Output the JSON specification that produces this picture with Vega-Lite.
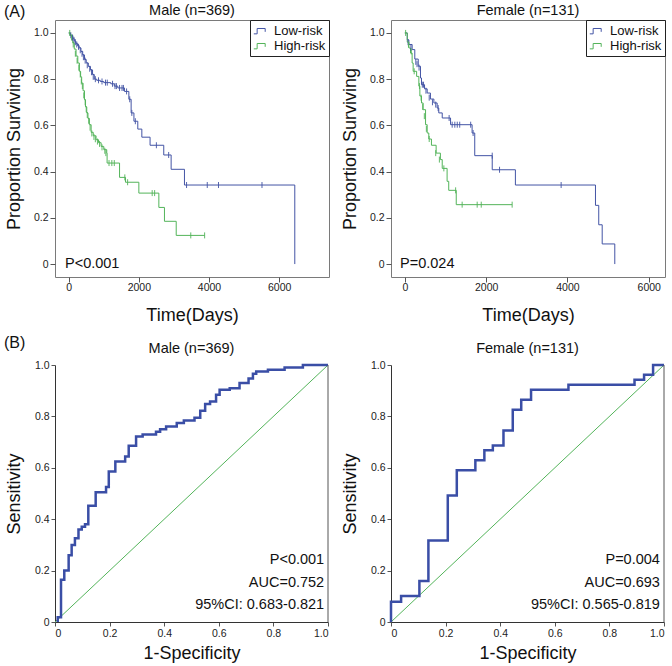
{
  "$schema": "https://vega.github.io/schema/vega-lite/v6.json",
  "padding": {"left": 3, "top": 2, "right": 5, "bottom": 5},
  "background": "white",
  "config": {
    "font": "Liberation Sans",
    "view": {"stroke": "#7a7a7a", "strokeWidth": 1},
    "axis": {"grid": false, "labelFontSize": 10.5, "labelColor": "#222", "titleFontSize": 18, "titleFontWeight": "normal", "titleColor": "#111", "tickColor": "#555", "domainColor": "#555", "tickSize": 5, "labelPadding": 2}
  },
  "datasets": {
    "km_male": [
      {"t":0,"s":1,"g":"Low-risk"},{"t":40,"s":0.99,"g":"Low-risk"},{"t":80,"s":0.985,"g":"Low-risk"},{"t":120,"s":0.975,"g":"Low-risk"},{"t":160,"s":0.965,"g":"Low-risk"},{"t":200,"s":0.955,"g":"Low-risk"},{"t":250,"s":0.945,"g":"Low-risk"},{"t":300,"s":0.935,"g":"Low-risk"},{"t":350,"s":0.92,"g":"Low-risk"},{"t":400,"s":0.905,"g":"Low-risk"},{"t":450,"s":0.885,"g":"Low-risk"},{"t":500,"s":0.87,"g":"Low-risk"},{"t":560,"s":0.855,"g":"Low-risk"},{"t":620,"s":0.84,"g":"Low-risk"},{"t":680,"s":0.82,"g":"Low-risk"},{"t":730,"s":0.8,"g":"Low-risk"},{"t":800,"s":0.795,"g":"Low-risk"},{"t":900,"s":0.79,"g":"Low-risk"},{"t":1000,"s":0.785,"g":"Low-risk"},{"t":1200,"s":0.78,"g":"Low-risk"},{"t":1300,"s":0.77,"g":"Low-risk"},{"t":1400,"s":0.762,"g":"Low-risk"},{"t":1590,"s":0.747,"g":"Low-risk"},{"t":1715,"s":0.713,"g":"Low-risk"},{"t":1780,"s":0.654,"g":"Low-risk"},{"t":1860,"s":0.618,"g":"Low-risk"},{"t":1970,"s":0.584,"g":"Low-risk"},{"t":2085,"s":0.549,"g":"Low-risk"},{"t":2320,"s":0.514,"g":"Low-risk"},{"t":2710,"s":0.472,"g":"Low-risk"},{"t":2920,"s":0.41,"g":"Low-risk"},{"t":3300,"s":0.342,"g":"Low-risk"},{"t":6445,"s":0.0,"g":"Low-risk"},
      {"t":0,"s":1,"g":"High-risk"},{"t":50,"s":0.99,"g":"High-risk"},{"t":115,"s":0.957,"g":"High-risk"},{"t":160,"s":0.93,"g":"High-risk"},{"t":210,"s":0.9,"g":"High-risk"},{"t":260,"s":0.87,"g":"High-risk"},{"t":305,"s":0.834,"g":"High-risk"},{"t":340,"s":0.81,"g":"High-risk"},{"t":370,"s":0.783,"g":"High-risk"},{"t":410,"s":0.75,"g":"High-risk"},{"t":450,"s":0.711,"g":"High-risk"},{"t":480,"s":0.68,"g":"High-risk"},{"t":515,"s":0.654,"g":"High-risk"},{"t":550,"s":0.63,"g":"High-risk"},{"t":590,"s":0.603,"g":"High-risk"},{"t":640,"s":0.57,"g":"High-risk"},{"t":700,"s":0.555,"g":"High-risk"},{"t":780,"s":0.538,"g":"High-risk"},{"t":850,"s":0.525,"g":"High-risk"},{"t":925,"s":0.509,"g":"High-risk"},{"t":1000,"s":0.495,"g":"High-risk"},{"t":1085,"s":0.48,"g":"High-risk"},{"t":1095,"s":0.437,"g":"High-risk"},{"t":1450,"s":0.375,"g":"High-risk"},{"t":1620,"s":0.354,"g":"High-risk"},{"t":2000,"s":0.307,"g":"High-risk"},{"t":2570,"s":0.245,"g":"High-risk"},{"t":2730,"s":0.185,"g":"High-risk"},{"t":3065,"s":0.124,"g":"High-risk"},{"t":3875,"s":0.124,"g":"High-risk"}
    ],
    "km_male_cens": [
      {"t":60,"s":0.99,"g":"Low-risk"},{"t":110,"s":0.98,"g":"Low-risk"},{"t":150,"s":0.97,"g":"Low-risk"},{"t":190,"s":0.96,"g":"Low-risk"},{"t":230,"s":0.95,"g":"Low-risk"},{"t":280,"s":0.94,"g":"Low-risk"},{"t":330,"s":0.925,"g":"Low-risk"},{"t":380,"s":0.91,"g":"Low-risk"},{"t":420,"s":0.895,"g":"Low-risk"},{"t":470,"s":0.88,"g":"Low-risk"},{"t":530,"s":0.86,"g":"Low-risk"},{"t":600,"s":0.845,"g":"Low-risk"},{"t":650,"s":0.83,"g":"Low-risk"},{"t":700,"s":0.81,"g":"Low-risk"},{"t":760,"s":0.8,"g":"Low-risk"},{"t":850,"s":0.795,"g":"Low-risk"},{"t":950,"s":0.79,"g":"Low-risk"},{"t":1050,"s":0.785,"g":"Low-risk"},{"t":1100,"s":0.785,"g":"Low-risk"},{"t":1250,"s":0.78,"g":"Low-risk"},{"t":1320,"s":0.77,"g":"Low-risk"},{"t":1360,"s":0.77,"g":"Low-risk"},{"t":1450,"s":0.762,"g":"Low-risk"},{"t":1520,"s":0.762,"g":"Low-risk"},{"t":1560,"s":0.762,"g":"Low-risk"},{"t":1650,"s":0.747,"g":"Low-risk"},{"t":1740,"s":0.713,"g":"Low-risk"},{"t":1800,"s":0.654,"g":"Low-risk"},{"t":1900,"s":0.618,"g":"Low-risk"},{"t":2500,"s":0.514,"g":"Low-risk"},{"t":2850,"s":0.472,"g":"Low-risk"},{"t":3360,"s":0.342,"g":"Low-risk"},{"t":3950,"s":0.342,"g":"Low-risk"},{"t":4270,"s":0.342,"g":"Low-risk"},{"t":5510,"s":0.342,"g":"Low-risk"},
      {"t":30,"s":1.0,"g":"High-risk"},{"t":80,"s":0.98,"g":"High-risk"},{"t":130,"s":0.95,"g":"High-risk"},{"t":190,"s":0.91,"g":"High-risk"},{"t":240,"s":0.88,"g":"High-risk"},{"t":290,"s":0.85,"g":"High-risk"},{"t":330,"s":0.82,"g":"High-risk"},{"t":360,"s":0.79,"g":"High-risk"},{"t":390,"s":0.77,"g":"High-risk"},{"t":430,"s":0.73,"g":"High-risk"},{"t":470,"s":0.7,"g":"High-risk"},{"t":500,"s":0.67,"g":"High-risk"},{"t":530,"s":0.645,"g":"High-risk"},{"t":570,"s":0.62,"g":"High-risk"},{"t":610,"s":0.59,"g":"High-risk"},{"t":660,"s":0.565,"g":"High-risk"},{"t":720,"s":0.55,"g":"High-risk"},{"t":760,"s":0.54,"g":"High-risk"},{"t":820,"s":0.53,"g":"High-risk"},{"t":880,"s":0.52,"g":"High-risk"},{"t":950,"s":0.505,"g":"High-risk"},{"t":1030,"s":0.49,"g":"High-risk"},{"t":1060,"s":0.48,"g":"High-risk"},{"t":1150,"s":0.437,"g":"High-risk"},{"t":1230,"s":0.437,"g":"High-risk"},{"t":1300,"s":0.437,"g":"High-risk"},{"t":1600,"s":0.375,"g":"High-risk"},{"t":1680,"s":0.354,"g":"High-risk"},{"t":2380,"s":0.307,"g":"High-risk"},{"t":2450,"s":0.307,"g":"High-risk"},{"t":3480,"s":0.124,"g":"High-risk"},{"t":3875,"s":0.124,"g":"High-risk"}
    ],
    "km_female": [
      {"t":0,"s":1,"g":"Low-risk"},{"t":60,"s":0.97,"g":"Low-risk"},{"t":100,"s":0.95,"g":"Low-risk"},{"t":180,"s":0.928,"g":"Low-risk"},{"t":245,"s":0.887,"g":"Low-risk"},{"t":330,"s":0.856,"g":"Low-risk"},{"t":385,"s":0.805,"g":"Low-risk"},{"t":410,"s":0.776,"g":"Low-risk"},{"t":485,"s":0.758,"g":"Low-risk"},{"t":550,"s":0.74,"g":"Low-risk"},{"t":630,"s":0.714,"g":"Low-risk"},{"t":715,"s":0.697,"g":"Low-risk"},{"t":795,"s":0.675,"g":"Low-risk"},{"t":835,"s":0.654,"g":"Low-risk"},{"t":920,"s":0.632,"g":"Low-risk"},{"t":1125,"s":0.603,"g":"Low-risk"},{"t":1655,"s":0.567,"g":"Low-risk"},{"t":1720,"s":0.469,"g":"Low-risk"},{"t":2150,"s":0.408,"g":"Low-risk"},{"t":2720,"s":0.342,"g":"Low-risk"},{"t":4690,"s":0.254,"g":"Low-risk"},{"t":4770,"s":0.17,"g":"Low-risk"},{"t":4855,"s":0.087,"g":"Low-risk"},{"t":5165,"s":0.0,"g":"Low-risk"},
      {"t":0,"s":1,"g":"High-risk"},{"t":60,"s":0.96,"g":"High-risk"},{"t":100,"s":0.935,"g":"High-risk"},{"t":140,"s":0.913,"g":"High-risk"},{"t":180,"s":0.87,"g":"High-risk"},{"t":205,"s":0.834,"g":"High-risk"},{"t":290,"s":0.812,"g":"High-risk"},{"t":345,"s":0.77,"g":"High-risk"},{"t":370,"s":0.727,"g":"High-risk"},{"t":410,"s":0.697,"g":"High-risk"},{"t":450,"s":0.668,"g":"High-risk"},{"t":510,"s":0.603,"g":"High-risk"},{"t":550,"s":0.567,"g":"High-risk"},{"t":590,"s":0.541,"g":"High-risk"},{"t":655,"s":0.514,"g":"High-risk"},{"t":770,"s":0.48,"g":"High-risk"},{"t":875,"s":0.452,"g":"High-risk"},{"t":920,"s":0.414,"g":"High-risk"},{"t":1040,"s":0.358,"g":"High-risk"},{"t":1080,"s":0.319,"g":"High-risk"},{"t":1265,"s":0.257,"g":"High-risk"},{"t":2640,"s":0.257,"g":"High-risk"}
    ],
    "km_female_cens": [
      {"t":80,"s":0.96,"g":"Low-risk"},{"t":150,"s":0.935,"g":"Low-risk"},{"t":270,"s":0.875,"g":"Low-risk"},{"t":300,"s":0.865,"g":"Low-risk"},{"t":350,"s":0.85,"g":"Low-risk"},{"t":430,"s":0.776,"g":"Low-risk"},{"t":460,"s":0.776,"g":"Low-risk"},{"t":520,"s":0.75,"g":"Low-risk"},{"t":600,"s":0.72,"g":"Low-risk"},{"t":680,"s":0.7,"g":"Low-risk"},{"t":760,"s":0.69,"g":"Low-risk"},{"t":820,"s":0.675,"g":"Low-risk"},{"t":1090,"s":0.632,"g":"Low-risk"},{"t":1165,"s":0.603,"g":"Low-risk"},{"t":1230,"s":0.603,"g":"Low-risk"},{"t":1290,"s":0.603,"g":"Low-risk"},{"t":1350,"s":0.603,"g":"Low-risk"},{"t":1620,"s":0.603,"g":"Low-risk"},{"t":1680,"s":0.567,"g":"Low-risk"},{"t":2150,"s":0.469,"g":"Low-risk"},{"t":2330,"s":0.408,"g":"Low-risk"},{"t":3845,"s":0.342,"g":"Low-risk"},
      {"t":20,"s":1.0,"g":"High-risk"},{"t":90,"s":0.95,"g":"High-risk"},{"t":160,"s":0.92,"g":"High-risk"},{"t":230,"s":0.834,"g":"High-risk"},{"t":360,"s":0.77,"g":"High-risk"},{"t":400,"s":0.72,"g":"High-risk"},{"t":440,"s":0.68,"g":"High-risk"},{"t":480,"s":0.64,"g":"High-risk"},{"t":530,"s":0.585,"g":"High-risk"},{"t":600,"s":0.541,"g":"High-risk"},{"t":760,"s":0.48,"g":"High-risk"},{"t":850,"s":0.452,"g":"High-risk"},{"t":960,"s":0.414,"g":"High-risk"},{"t":1250,"s":0.319,"g":"High-risk"},{"t":1410,"s":0.257,"g":"High-risk"},{"t":1780,"s":0.257,"g":"High-risk"},{"t":1880,"s":0.257,"g":"High-risk"},{"t":2640,"s":0.257,"g":"High-risk"}
    ],
    "roc_male": [
      {"fpr":0.01,"tpr":0},{"fpr":0.01,"tpr":0.018},{"fpr":0.022,"tpr":0.164},{"fpr":0.034,"tpr":0.2},{"fpr":0.05,"tpr":0.26},{"fpr":0.061,"tpr":0.3},{"fpr":0.073,"tpr":0.326},{"fpr":0.086,"tpr":0.36},{"fpr":0.098,"tpr":0.371},{"fpr":0.11,"tpr":0.38},{"fpr":0.122,"tpr":0.452},{"fpr":0.149,"tpr":0.505},{"fpr":0.187,"tpr":0.525},{"fpr":0.197,"tpr":0.586},{"fpr":0.221,"tpr":0.625},{"fpr":0.257,"tpr":0.644},{"fpr":0.27,"tpr":0.686},{"fpr":0.297,"tpr":0.722},{"fpr":0.321,"tpr":0.73},{"fpr":0.37,"tpr":0.74},{"fpr":0.385,"tpr":0.75},{"fpr":0.407,"tpr":0.761},{"fpr":0.446,"tpr":0.774},{"fpr":0.472,"tpr":0.784},{"fpr":0.511,"tpr":0.795},{"fpr":0.532,"tpr":0.822},{"fpr":0.55,"tpr":0.848},{"fpr":0.568,"tpr":0.858},{"fpr":0.59,"tpr":0.884},{"fpr":0.603,"tpr":0.904},{"fpr":0.64,"tpr":0.91},{"fpr":0.676,"tpr":0.93},{"fpr":0.709,"tpr":0.947},{"fpr":0.725,"tpr":0.966},{"fpr":0.737,"tpr":0.975},{"fpr":0.78,"tpr":0.982},{"fpr":0.841,"tpr":0.99},{"fpr":0.908,"tpr":1.0},{"fpr":1.0,"tpr":1.0}
    ],
    "roc_female": [
      {"fpr":0,"tpr":0},{"fpr":0,"tpr":0.079},{"fpr":0.037,"tpr":0.101},{"fpr":0.104,"tpr":0.16},{"fpr":0.137,"tpr":0.317},{"fpr":0.208,"tpr":0.492},{"fpr":0.241,"tpr":0.59},{"fpr":0.309,"tpr":0.629},{"fpr":0.342,"tpr":0.668},{"fpr":0.373,"tpr":0.687},{"fpr":0.412,"tpr":0.745},{"fpr":0.446,"tpr":0.826},{"fpr":0.477,"tpr":0.865},{"fpr":0.513,"tpr":0.904},{"fpr":0.65,"tpr":0.923},{"fpr":0.892,"tpr":0.943},{"fpr":0.927,"tpr":0.962},{"fpr":0.96,"tpr":1.0},{"fpr":1.0,"tpr":1.0}
    ],
    "diag": [{"fpr":0,"tpr":0},{"fpr":1,"tpr":1}],
    "one": [{"k":1}]
  },
  "bounds": "flush",
  "columns": 2,
  "spacing": {"row": 88, "column": 62},
  "resolve": {"scale": {"color": "independent", "stroke": "independent", "x": "independent", "y": "independent"}, "legend": {"color": "independent"}},
  "concat": [
    {
      "width": 274, "height": 257,
      "layer": [
        {
          "data": {"name": "km_male"},
          "mark": {"type": "line", "interpolate": "step-after", "strokeWidth": 1},
          "encoding": {
            "x": {"field": "t", "type": "quantitative", "scale": {"domain": [-390, 7420], "nice": false, "zero": false},
                  "axis": {"values": [0, 2000, 4000, 6000], "format": "d", "title": "Time(Days)", "labelPadding": 0, "titlePadding": 14, "domain": false}},
            "y": {"field": "s", "type": "quantitative", "scale": {"domain": [-0.056, 1.056], "nice": false, "zero": false},
                  "axis": {"values": [0, 0.2, 0.4, 0.6, 0.8, 1.0], "labelExpr": "datum.value == 0 ? '0' : format(datum.value, '.1f')", "title": "Proportion Surviving", "titlePadding": 10, "domain": false}},
            "color": {"field": "g", "type": "nominal", "sort": ["Low-risk", "High-risk"],
                      "scale": {"domain": ["Low-risk", "High-risk"], "range": ["#4354a5", "#53b45a"]},
                      "legend": {"orient": "top-right", "offset": 0, "title": null, "strokeColor": "#222", "fillColor": "white", "padding": 3, "labelFontSize": 13, "labelColor": "#111", "symbolSize": 180, "symbolStrokeWidth": 1, "rowPadding": 0, "labelOffset": 6, "symbolType": "M-1,0.5L-0.5,0.5L-0.5,-0.3L0.7,-0.3L0.7,0.2"}},
            "detail": {"field": "g"}
          }
        },
        {
          "data": {"name": "km_male_cens"},
          "mark": {"type": "point", "shape": "M0,-1L0,1", "filled": false, "strokeWidth": 1, "size": 36, "opacity": 0.9},
          "encoding": {
            "x": {"field": "t", "type": "quantitative"},
            "y": {"field": "s", "type": "quantitative"},
            "stroke": {"field": "g", "type": "nominal", "scale": {"domain": ["Low-risk", "High-risk"], "range": ["#4354a5", "#53b45a"]}, "legend": null}
          }
        },
        {
          "data": {"name": "one"},
          "mark": {"type": "text", "align": "left", "baseline": "middle", "fontSize": 14.5, "color": "#111"},
          "encoding": {"x": {"datum": -105}, "y": {"datum": 0}, "text": {"value": "P<0.001"}}
        },
        {
          "data": {"name": "one"},
          "mark": {"type": "text", "align": "center", "baseline": "middle", "fontSize": 14.5, "color": "#111"},
          "encoding": {"x": {"datum": 3515}, "y": {"datum": 1.095}, "text": {"value": "Male (n=369)"}}
        },
        {
          "data": {"name": "one"},
          "mark": {"type": "text", "align": "left", "baseline": "middle", "fontSize": 16, "color": "#111"},
          "encoding": {"x": {"datum": -1844}, "y": {"datum": 1.091}, "text": {"value": "(A)"}}
        }
      ]
    },
    {
      "width": 274, "height": 257,
      "layer": [
        {
          "data": {"name": "km_female"},
          "mark": {"type": "line", "interpolate": "step-after", "strokeWidth": 1},
          "encoding": {
            "x": {"field": "t", "type": "quantitative", "scale": {"domain": [-340, 6400], "nice": false, "zero": false},
                  "axis": {"values": [0, 2000, 4000, 6000], "format": "d", "title": "Time(Days)", "labelPadding": 0, "titlePadding": 14, "domain": false}},
            "y": {"field": "s", "type": "quantitative", "scale": {"domain": [-0.056, 1.056], "nice": false, "zero": false},
                  "axis": {"values": [0, 0.2, 0.4, 0.6, 0.8, 1.0], "labelExpr": "datum.value == 0 ? '0' : format(datum.value, '.1f')", "title": "Proportion Surviving", "titlePadding": 10, "domain": false}},
            "color": {"field": "g", "type": "nominal", "sort": ["Low-risk", "High-risk"],
                      "scale": {"domain": ["Low-risk", "High-risk"], "range": ["#4354a5", "#53b45a"]},
                      "legend": {"orient": "top-right", "offset": 0, "title": null, "strokeColor": "#222", "fillColor": "white", "padding": 3, "labelFontSize": 13, "labelColor": "#111", "symbolSize": 180, "symbolStrokeWidth": 1, "rowPadding": 0, "labelOffset": 6, "symbolType": "M-1,0.5L-0.5,0.5L-0.5,-0.3L0.7,-0.3L0.7,0.2"}},
            "detail": {"field": "g"}
          }
        },
        {
          "data": {"name": "km_female_cens"},
          "mark": {"type": "point", "shape": "M0,-1L0,1", "filled": false, "strokeWidth": 1, "size": 36, "opacity": 0.9},
          "encoding": {
            "x": {"field": "t", "type": "quantitative"},
            "y": {"field": "s", "type": "quantitative"},
            "stroke": {"field": "g", "type": "nominal", "scale": {"domain": ["Low-risk", "High-risk"], "range": ["#4354a5", "#53b45a"]}, "legend": null}
          }
        },
        {
          "data": {"name": "one"},
          "mark": {"type": "text", "align": "left", "baseline": "middle", "fontSize": 14.5, "color": "#111"},
          "encoding": {"x": {"datum": -118}, "y": {"datum": 0}, "text": {"value": "P=0.024"}}
        },
        {
          "data": {"name": "one"},
          "mark": {"type": "text", "align": "center", "baseline": "middle", "fontSize": 14.5, "color": "#111"},
          "encoding": {"x": {"datum": 3030}, "y": {"datum": 1.095}, "text": {"value": "Female (n=131)"}}
        }
      ]
    },
    {
      "width": 273, "height": 257,
      "view": {"stroke": null},
      "layer": [
        {
          "data": {"name": "diag"},
          "mark": {"type": "line", "color": "#53b45a", "strokeWidth": 1},
          "encoding": {
            "x": {"field": "fpr", "type": "quantitative", "scale": {"domain": [0, 1], "nice": false},
                  "axis": {"values": [0, 0.2, 0.4, 0.6, 0.8, 1.0], "labelExpr": "datum.value == 0 ? '0' : format(datum.value, '.1f')", "title": "1-Specificity", "titlePadding": 6, "tickSize": 4, "domainColor": "#333"}},
            "y": {"field": "tpr", "type": "quantitative", "scale": {"domain": [0, 1], "nice": false},
                  "axis": {"values": [0, 0.2, 0.4, 0.6, 0.8, 1.0], "labelExpr": "datum.value == 0 ? '0' : format(datum.value, '.1f')", "title": "Sensitivity", "titlePadding": 11, "tickSize": 4, "domainColor": "#333"}}
          }
        },
        {
          "data": {"name": "roc_male"},
          "mark": {"type": "line", "interpolate": "step-after", "color": "#3a4ea6", "strokeWidth": 2.5},
          "encoding": {"x": {"field": "fpr", "type": "quantitative"}, "y": {"field": "tpr", "type": "quantitative"}}
        },
        {
          "data": {"name": "one"},
          "mark": {"type": "rule", "color": "#555", "strokeWidth": 1},
          "encoding": {"x": {"datum": 1}, "y": {"datum": 0}, "y2": {"datum": 1}}
        },
        {
          "data": {"name": "one"},
          "mark": {"type": "text", "align": "right", "baseline": "middle", "fontSize": 14.5, "color": "#111"},
          "encoding": {"x": {"datum": 0.986}, "y": {"datum": 0.242}, "text": {"value": "P<0.001"}}
        },
        {
          "data": {"name": "one"},
          "mark": {"type": "text", "align": "right", "baseline": "middle", "fontSize": 14.5, "color": "#111"},
          "encoding": {"x": {"datum": 0.986}, "y": {"datum": 0.152}, "text": {"value": "AUC=0.752"}}
        },
        {
          "data": {"name": "one"},
          "mark": {"type": "text", "align": "right", "baseline": "middle", "fontSize": 14.5, "color": "#111"},
          "encoding": {"x": {"datum": 0.986}, "y": {"datum": 0.066}, "text": {"value": "95%CI: 0.683-0.821"}}
        },
        {
          "data": {"name": "one"},
          "mark": {"type": "text", "align": "center", "baseline": "middle", "fontSize": 14.5, "color": "#111"},
          "encoding": {"x": {"datum": 0.5}, "y": {"datum": 1.064}, "text": {"value": "Male (n=369)"}}
        },
        {
          "data": {"name": "one"},
          "mark": {"type": "text", "align": "left", "baseline": "middle", "fontSize": 16, "color": "#111"},
          "encoding": {"x": {"datum": -0.187}, "y": {"datum": 1.087}, "text": {"value": "(B)"}}
        }
      ]
    },
    {
      "width": 273, "height": 257,
      "view": {"stroke": null},
      "layer": [
        {
          "data": {"name": "diag"},
          "mark": {"type": "line", "color": "#53b45a", "strokeWidth": 1},
          "encoding": {
            "x": {"field": "fpr", "type": "quantitative", "scale": {"domain": [0, 1], "nice": false},
                  "axis": {"values": [0, 0.2, 0.4, 0.6, 0.8, 1.0], "labelExpr": "datum.value == 0 ? '0' : format(datum.value, '.1f')", "title": "1-Specificity", "titlePadding": 6, "tickSize": 4, "domainColor": "#333"}},
            "y": {"field": "tpr", "type": "quantitative", "scale": {"domain": [0, 1], "nice": false},
                  "axis": {"values": [0, 0.2, 0.4, 0.6, 0.8, 1.0], "labelExpr": "datum.value == 0 ? '0' : format(datum.value, '.1f')", "title": "Sensitivity", "titlePadding": 11, "tickSize": 4, "domainColor": "#333"}}
          }
        },
        {
          "data": {"name": "roc_female"},
          "mark": {"type": "line", "interpolate": "step-after", "color": "#3a4ea6", "strokeWidth": 2.5},
          "encoding": {"x": {"field": "fpr", "type": "quantitative"}, "y": {"field": "tpr", "type": "quantitative"}}
        },
        {
          "data": {"name": "one"},
          "mark": {"type": "rule", "color": "#555", "strokeWidth": 1},
          "encoding": {"x": {"datum": 1}, "y": {"datum": 0}, "y2": {"datum": 1}}
        },
        {
          "data": {"name": "one"},
          "mark": {"type": "text", "align": "right", "baseline": "middle", "fontSize": 14.5, "color": "#111"},
          "encoding": {"x": {"datum": 0.985}, "y": {"datum": 0.242}, "text": {"value": "P=0.004"}}
        },
        {
          "data": {"name": "one"},
          "mark": {"type": "text", "align": "right", "baseline": "middle", "fontSize": 14.5, "color": "#111"},
          "encoding": {"x": {"datum": 0.985}, "y": {"datum": 0.152}, "text": {"value": "AUC=0.693"}}
        },
        {
          "data": {"name": "one"},
          "mark": {"type": "text", "align": "right", "baseline": "middle", "fontSize": 14.5, "color": "#111"},
          "encoding": {"x": {"datum": 0.985}, "y": {"datum": 0.066}, "text": {"value": "95%CI: 0.565-0.819"}}
        },
        {
          "data": {"name": "one"},
          "mark": {"type": "text", "align": "center", "baseline": "middle", "fontSize": 14.5, "color": "#111"},
          "encoding": {"x": {"datum": 0.5}, "y": {"datum": 1.064}, "text": {"value": "Female (n=131)"}}
        }
      ]
    }
  ]
}
